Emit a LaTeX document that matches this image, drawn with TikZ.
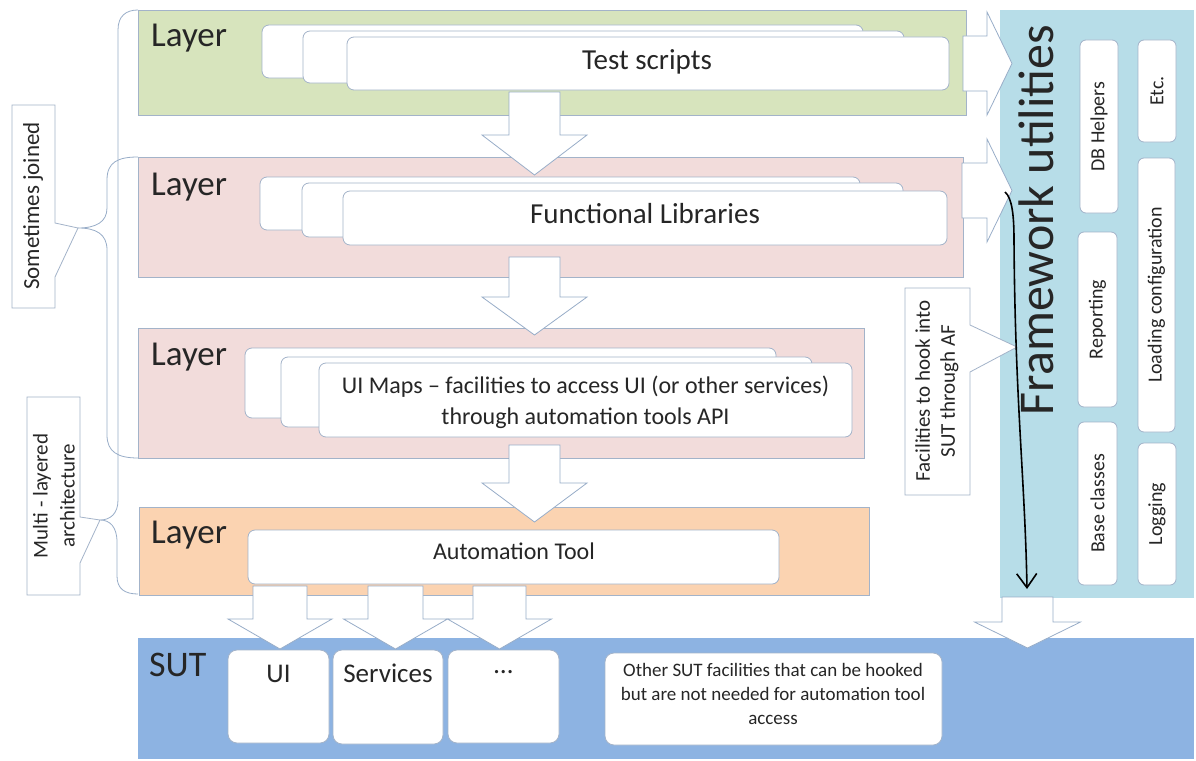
\documentclass[tikz,border=0pt]{standalone}
\usepackage{fontspec}
\setmainfont{Carlito}
\usetikzlibrary{arrows.meta,fit}
\definecolor{cgreen}{HTML}{D7E4BD}
\definecolor{cpink}{HTML}{F2DCDB}
\definecolor{corange}{HTML}{FBD3B1}
\definecolor{cfw}{HTML}{B7DDE8}
\definecolor{csut}{HTML}{8DB3E2}
\definecolor{cedge}{HTML}{A3B3C9}
\definecolor{carrow}{HTML}{98ADC8}
\definecolor{ctxt}{HTML}{262626}
\newcommand\fsz[2]{\fontsize{#1}{#2}\selectfont}
% down block arrow: cx, top, base, tip, shaft half, head half
\newcommand\dnarrow[6]{\draw[barrow] (#1-#5,#2) -- (#1+#5,#2) -- (#1+#5,#3) -- (#1+#6,#3) -- (#1,#4) -- (#1-#6,#3) -- (#1-#5,#3) -- cycle;}
% right block arrow: left x, base x, tip x, cy, shaft half, head half
\newcommand\rtarrow[6]{\draw[barrow] (#1,#4-#5) -- (#2,#4-#5) -- (#2,#4-#6) -- (#3,#4) -- (#2,#4+#6) -- (#2,#4+#5) -- (#1,#4+#5) -- cycle;}
\begin{document}
\begin{tikzpicture}[x=1pt,y=-1pt,
  layerbox/.style={draw=cedge, line width=0.8pt, inner sep=0pt},
  wbox/.style={draw=cedge, fill=white, rounded corners=7pt, line width=0.8pt, inner sep=0pt, text=ctxt},
  barrow/.style={draw=carrow, fill=white, line width=0.8pt, line join=miter},
  lyr/.style={font=\fsz{35}{36}, text=ctxt, anchor=base west, inner sep=0pt},
  rot/.style={rotate=90, font=\fsz{20}{22}, text=ctxt, inner sep=0pt},
  txt/.style={text=ctxt, inner sep=0pt},
  brace/.style={draw=carrow, line width=0.8pt},
  callout/.style={draw=cedge, fill=white, line width=0.8pt, line join=miter}]
\useasboundingbox (0,0) rectangle (1196,760);
\fill[white] (0,0) rectangle (1196,760);

% braces
\draw[brace] (138,157) .. controls (118,157) and (107,162) .. (107,180) -- (107,208)
  .. controls (107,222) and (96,228) .. (78,228)
  .. controls (96,228) and (107,234) .. (107,250) -- (107,435)
  .. controls (107,452) and (118,458) .. (138,458);
\draw[brace] (138,10) .. controls (126,10) and (118,16) .. (118,30) -- (118,500)
  .. controls (118,514) and (110,520) .. (100,520)
  .. controls (110,520) and (117,527) .. (117,542) -- (117,576)
  .. controls (117,589) and (125,594) .. (138,594);

% left callouts
\draw[callout] (12,105) -- (55,105) -- (55,223) -- (78,228) -- (55,277) -- (55,308) -- (12,308) -- cycle;
\node[rot, font=\fsz{23}{25}] (sj) at (33,206) {Sometimes joined};
\draw[callout] (27,397) -- (80,397) -- (80,517) -- (100,520) -- (80,563) -- (80,595) -- (27,595) -- cycle;
\node[rot, font=\fsz{21}{27}, align=center] (mla) at (54,496) {Multi - layered\\architecture};

% layers
\node[layerbox, fill=cgreen, fit={(138,10) (966,115)}] (L1) {};
\node[layerbox, fill=cpink, fit={(138,157) (963,277)}] (L2) {};
\node[layerbox, fill=cpink, fit={(138,328) (864,458)}] (L3) {};
\node[layerbox, fill=corange, fit={(139,507) (869,595)}] (L4) {};
\node[lyr] (L1t) at (151,47) {Layer};
\node[lyr] (L2t) at (151,195) {Layer};
\node[lyr] (L3t) at (151,365) {Layer};
\node[lyr] (L4t) at (151,543) {Layer};

% stacks
\node[wbox, fit={(262,25) (863,78)}] (ts1) {};
\node[wbox, fit={(303,31) (904,83)}] (ts2) {};
\node[wbox, fit={(347,37) (949,90)}] (ts3) {};
\node[txt, font=\fsz{29}{30}] (ts3t) at (647,62) {Test scripts};
\node[wbox, fit={(260,177) (860,230)}] (fl1) {};
\node[wbox, fit={(302,183) (903,237)}] (fl2) {};
\node[wbox, fit={(343,191) (947,245)}] (fl3) {};
\node[txt, font=\fsz{29}{30}] (fl3t) at (645,214) {Functional Libraries};
\node[wbox, fit={(245,348) (776,418)}] (um1) {};
\node[wbox, fit={(281,357) (812,427)}] (um2) {};
\node[wbox, fit={(319,363) (852,437)}] (um3) {};
\node[txt, font=\fsz{24}{31}, align=center] (um3t) at (585.5,402) {UI Maps -- facilities to access UI (or other services)\\through automation tools API};
\node[wbox, fit={(248,530) (779,584)}] (at) {};
\node[txt, font=\fsz{24}{26}] (att) at (514,551) {Automation Tool};

% framework utilities
\node[layerbox, draw=cfw, fill=cfw, fit={(1000,10) (1193,597)}] (fw) {};
\node[rotate=90, anchor=base, font=\fsz{50}{52}, text=ctxt, inner sep=0pt] (fwt) at (1053,220) {Framework utilities};
\node[wbox, rounded corners=6pt, fit={(1080,40) (1118,213)}] (fdb) {};
\node[rot] at (fdb) {DB Helpers};
\node[wbox, rounded corners=6pt, fit={(1078,232) (1117,407)}] (frep) {};
\node[rot] at (frep) {Reporting};
\node[wbox, rounded corners=6pt, fit={(1078,422) (1117,585)}] (fbase) {};
\node[rot] at (fbase) {Base classes};
\node[wbox, rounded corners=6pt, fit={(1138,40) (1176,142)}] (fetc) {};
\node[rot] at (fetc) {Etc.};
\node[wbox, rounded corners=6pt, fit={(1138,158) (1175,432)}] (fload) {};
\node[rot] at (fload) {Loading configuration};
\node[wbox, rounded corners=6pt, fit={(1138,443) (1176,585)}] (flog) {};
\node[rot] at (flog) {Logging};

% right arrows into framework
\rtarrow{963}{987}{1012}{63.5}{27.5}{51.5}
\rtarrow{962}{987}{1012}{190.5}{27.5}{51.5}

% facilities callout
\draw[callout] (905,288) -- (970,288) -- (970,325) -- (1017,347) -- (970,372) -- (970,495) -- (905,495) -- cycle;
\node[rot, font=\fsz{21}{25}, align=center] (fac) at (937,391) {Facilities to hook into\\SUT through AF};

% down arrows between layers
\dnarrow{534.5}{92}{135}{175}{25.5}{52.5}
\dnarrow{534.5}{257}{297}{335}{25.5}{52.5}
\dnarrow{534.5}{445}{483}{522}{25.5}{52.5}

% SUT
\node[layerbox, draw=csut, fill=csut, fit={(138,638) (1193,758)}] (sut) {};
\node[lyr, font=\fsz{36}{38}] (sutt) at (149,676) {SUT};

\dnarrow{280}{586}{619}{649}{27}{52}
\dnarrow{395.5}{586}{619}{649}{27.5}{52}
\dnarrow{499.5}{586}{619}{649}{26.5}{52}
\dnarrow{1027.5}{597}{622}{648}{25.5}{53}

\node[wbox, rounded corners=9pt, fit={(228,650) (329,743)}] (ui) {};
\node[font=\fsz{27}{28}, text=ctxt] at ([yshift=-24pt]ui.north) {UI};
\node[wbox, rounded corners=9pt, fit={(333,650) (443,744)}] (svc) {};
\node[font=\fsz{27}{28}, text=ctxt] at ([yshift=-24pt]svc.north) {Services};
\node[wbox, rounded corners=9pt, fit={(448,650) (559,743)}] (dots) {};
\node[font=\fsz{27}{28}, text=ctxt] at ([yshift=-22pt]dots.north) {\dots};
\node[wbox, rounded corners=9pt, fit={(605,653) (942,745)}] (oth) {};
\node[font=\fsz{19}{24}, text=ctxt, align=center] at (773,694) {Other SUT facilities that can be hooked\\but are not needed for automation tool\\access};

% hook arrow
\coordinate (hookS) at (1005,192);
\coordinate (hookE) at (1027,589);
\draw[line width=1.6pt, -{Straight Barb[length=14pt,width=20pt]}] (hookS) .. controls (1012,198) and (1014,215) .. (1014,240) .. controls (1015,400) and (1025,480) .. (hookE);
\end{tikzpicture}
\end{document}
